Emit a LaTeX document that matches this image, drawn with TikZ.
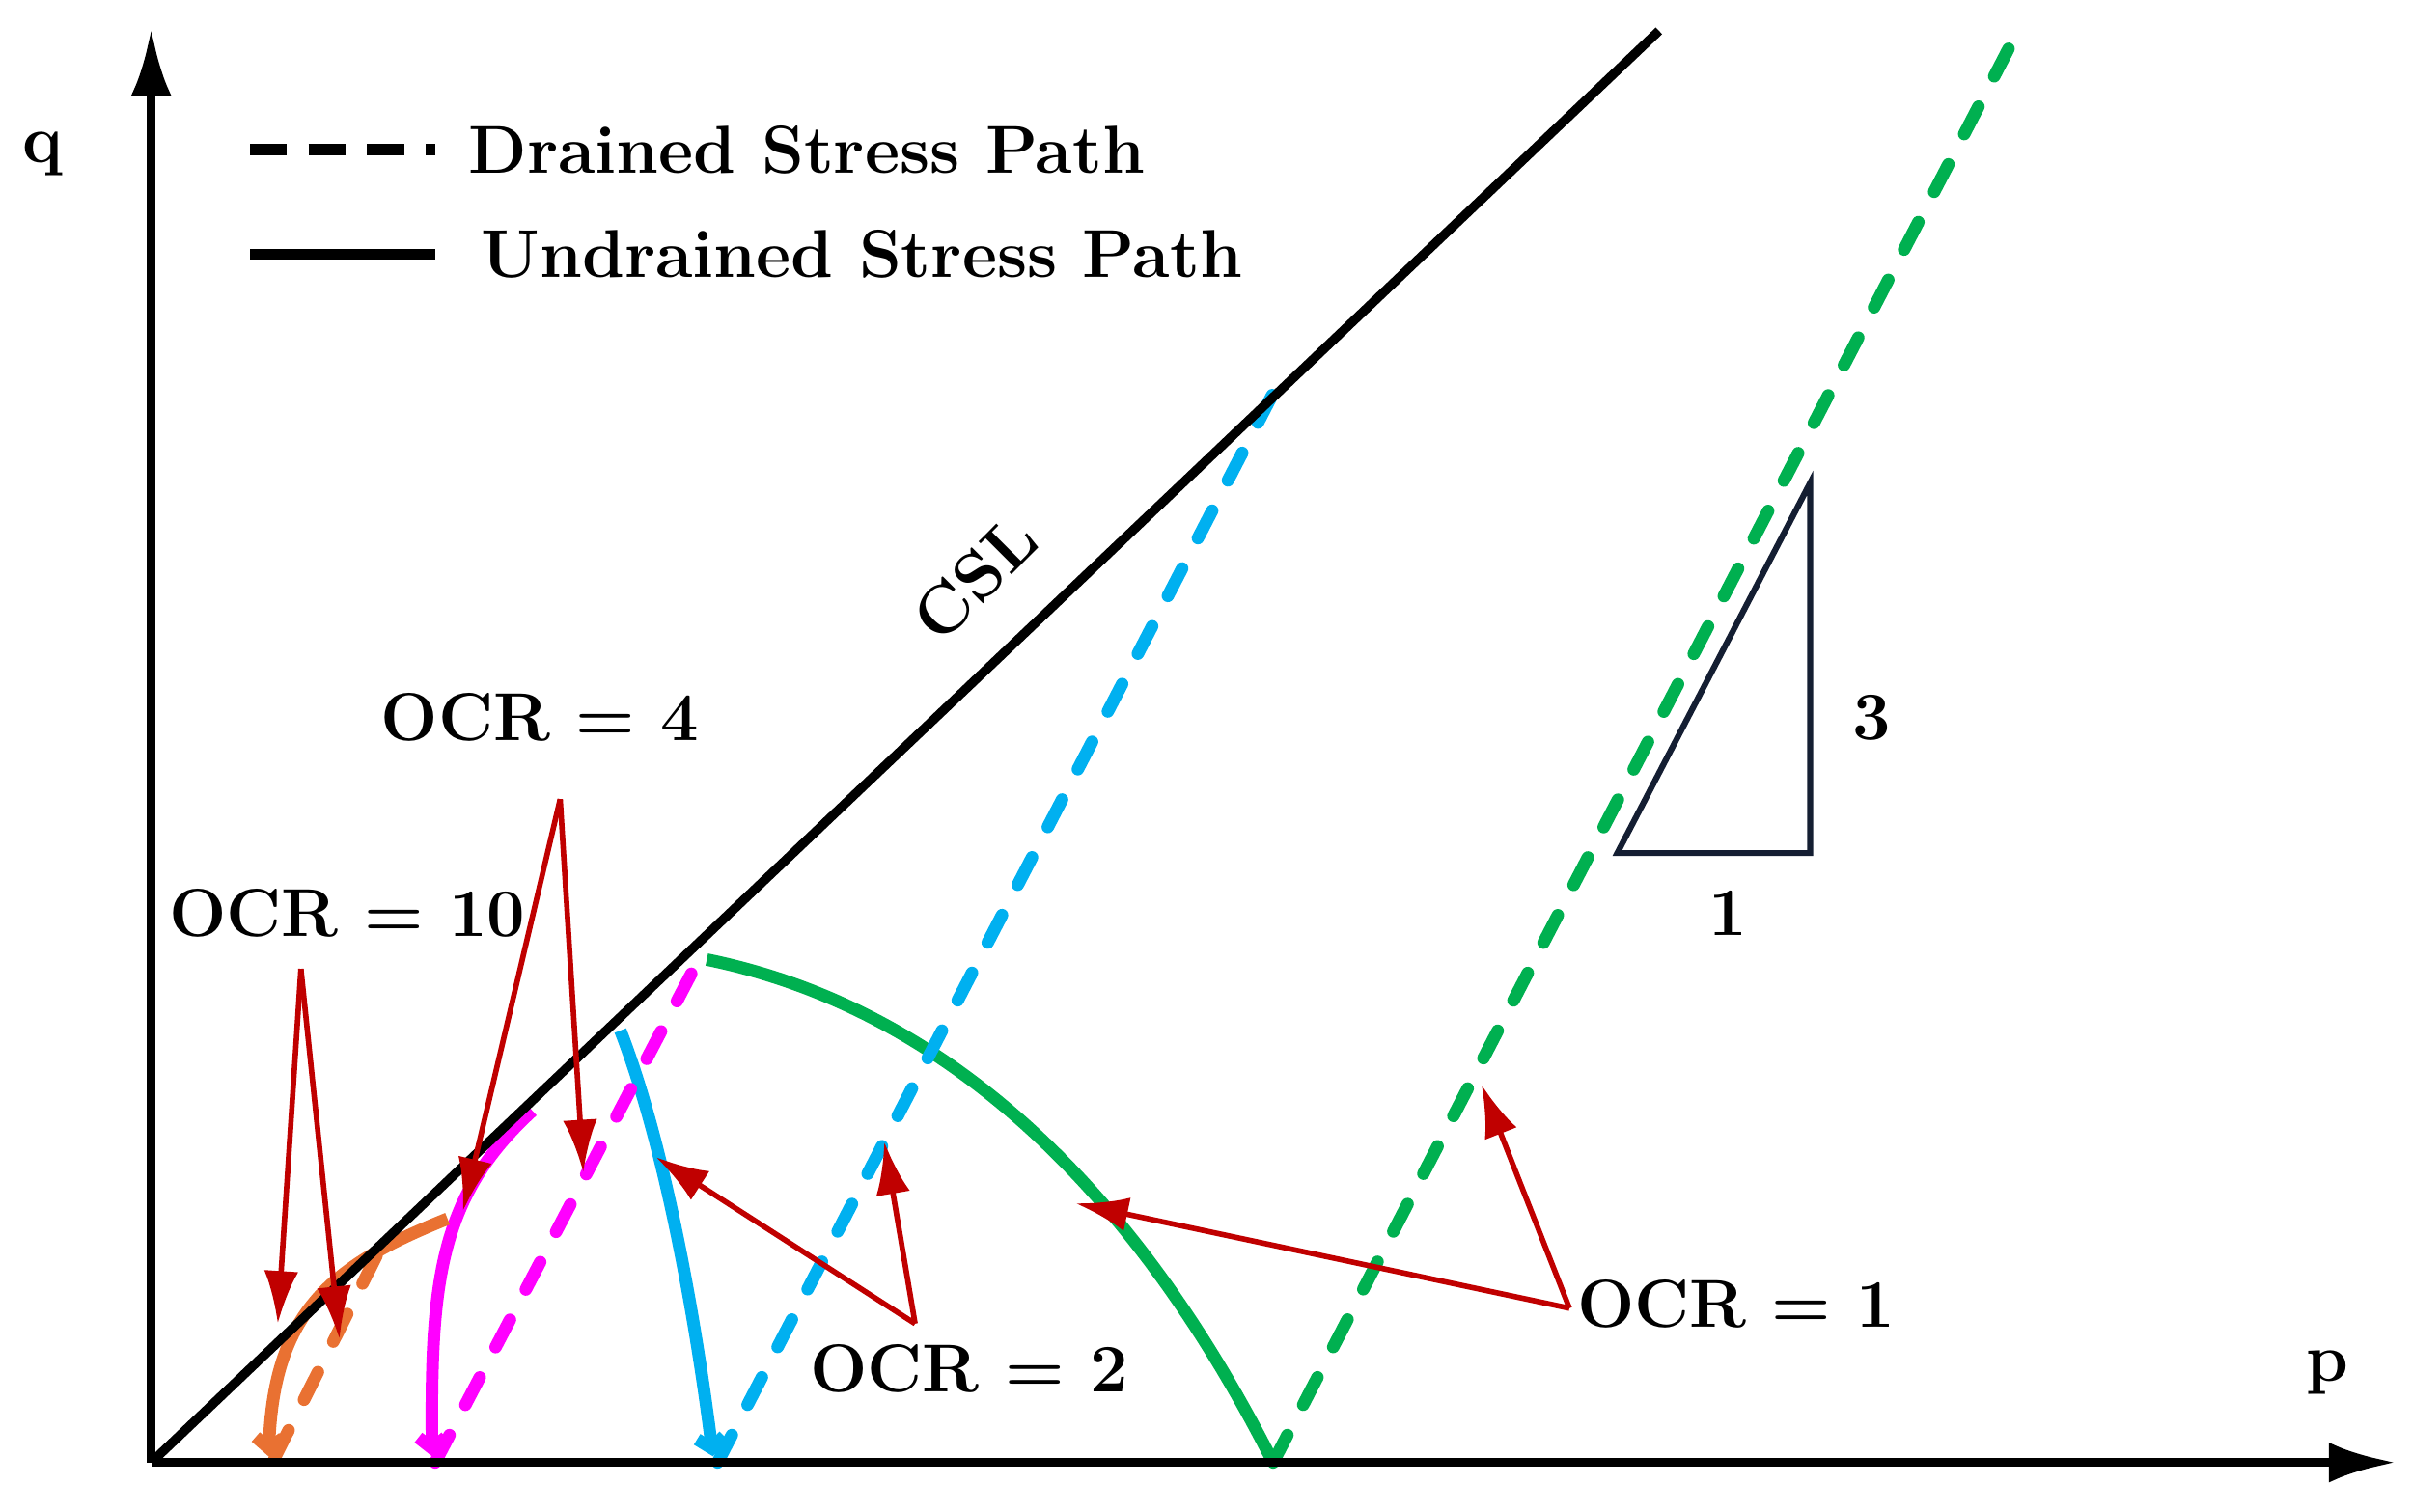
\documentclass[tikz,border=0pt]{standalone}
\usetikzlibrary{arrows.meta}
\begin{document}
\begin{tikzpicture}[x=0.01cm,y=-0.01cm,
 ax/.style={line width=1.7pt, -{Latex[length=12.5pt,width=7.4pt]}},
 dsh/.style={line width=2.3pt, line cap=round, dash pattern=on 5.7pt off 6.3pt},
 sol/.style={line width=2.3pt},
 ra/.style={draw={rgb,255:red,192;green,0;blue,0}, line width=1pt, -{Latex[length=9.7pt,width=6.3pt]}},
 lbl/.style={font=\fontsize{12.5}{15}\selectfont\bfseries, inner sep=0},
 barb/.style={-{Straight Barb[length=2pt,width=5pt]}}]
\definecolor{gr}{RGB}{0,176,80}
\definecolor{bl}{RGB}{0,176,240}
\definecolor{mg}{RGB}{255,0,255}
\definecolor{orr}{RGB}{233,113,50}
\definecolor{nv}{RGB}{20,30,50}
\useasboundingbox (0,0) rectangle (1563,980);
\coordinate (O) at (98,948);
\coordinate (Y) at (98,18);
\coordinate (X) at (1553,948);
% curves
\draw[dsh,gr] (825,948) -- (1305,25);
\draw[sol,gr] (458,622) .. controls (620,655) and (740,780) .. (825,948);
\draw[dsh,bl] (465,948) -- (825,255);
\draw[sol,bl,barb] (402,668) .. controls (430,740) and (450,850) .. (462,944);
\draw[dsh,mg] (282,948) -- (458,612);
\draw[sol,mg,barb] (345,720) .. controls (285,775) and (279,830) .. (280,944);
\draw[dsh,orr] (178,945) -- (245,812);
\draw[sol,orr,barb] (290,790) .. controls (215,820) and (178,850) .. (174,944);
% CSL and axes
\draw[line width=1.7pt] (O) -- (1075,20);
\draw[ax] (O) -- (Y);
\draw[ax] (O) -- (X);
\node[lbl,rotate=45] (csl) at (632,375) {CSL};
\node[lbl] (q) at (28,100) {q};
\node[lbl] (p) at (1508,890) {p};
% legend
\coordinate (l1a) at (162,97); \coordinate (l1b) at (282,97);
\coordinate (l2a) at (162,165); \coordinate (l2b) at (282,165);
\draw[line width=2pt, dash pattern=on 6.8pt off 4pt] (l1a) -- (l1b);
\draw[line width=2pt] (l2a) -- (l2b);
\node[lbl,anchor=west] (d) at (303,97) {Drained Stress Path};
\node[lbl,anchor=west] (u) at (311,165) {Undrained Stress Path};
% triangle
\draw[nv,line width=1.1pt,line join=miter] (1048,553) -- (1173,553) -- (1173,313) -- cycle;
\node[lbl] (t3) at (1213,465) {3};
\node[lbl] (t1) at (1120,592) {1};
% OCR labels and arrows
\node[lbl] (o10) at (225,592) {OCR = 10};
\node[lbl] (o4) at (350,465) {OCR = 4};
\node[lbl] (o2) at (628,887) {OCR = 2};
\node[lbl] (o1) at (1125,845) {OCR = 1};
\coordinate (s10) at (195,628);
\coordinate (s4) at (363,518);
\coordinate (s2) at (593,858);
\coordinate (s1) at (1017,848);
\draw[ra] (s10) -- (180,858);
\draw[ra] (s10) -- (220,868);
\draw[ra] (s4) -- (300,785);
\draw[ra] (s4) -- (378,760);
\draw[ra] (s2) -- (425,750);
\draw[ra] (s2) -- (573,740);
\draw[ra] (s1) -- (697,780);
\draw[ra] (s1) -- (960,703);
\end{tikzpicture}
\end{document}
